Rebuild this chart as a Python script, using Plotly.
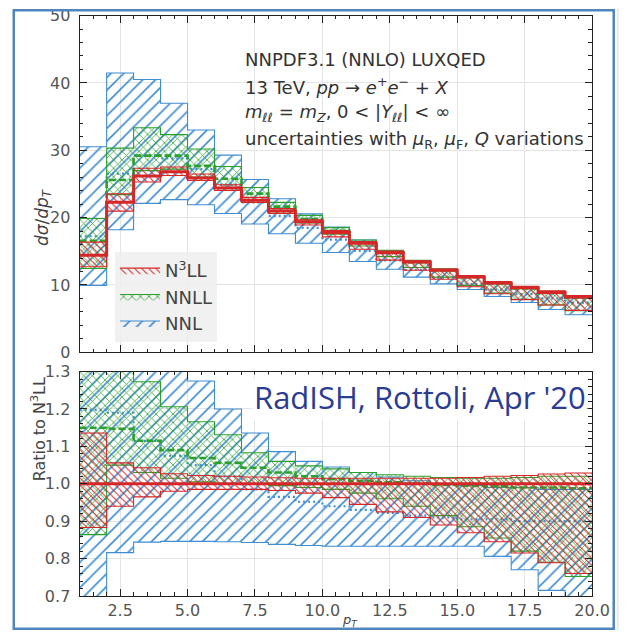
import plotly.graph_objects as go

# p_T bin edges: 19 unit-width bins from 1 to 20
pt_edges = list(range(1, 21))

# N3LL central prediction (absolute, dsigma/dpT)
n3ll_central = [14.4, 22.3, 26.2, 26.8, 25.9, 24.4, 22.6, 21.0, 19.4, 17.8,
                16.2, 14.8, 13.4, 12.2, 11.2, 10.3, 9.6, 8.9, 8.2]

# everything below is expressed as a ratio to the N3LL central value
n3ll_lo = [0.883, 0.940, 0.965, 0.980, 0.985, 0.985, 0.985, 0.982, 0.975, 0.963,
           0.945, 0.925, 0.910, 0.890, 0.869, 0.845, 0.815, 0.789, 0.760]
n3ll_hi = [1.136, 1.056, 1.043, 1.027, 1.022, 1.020, 1.018, 1.016, 1.015, 1.015,
           1.015, 1.015, 1.015, 1.015, 1.017, 1.020, 1.022, 1.026, 1.029]

nnll_mid = [1.150, 1.147, 1.115, 1.090, 1.069, 1.056, 1.043, 1.030, 1.020, 1.013,
            1.008, 1.004, 1.000, 0.997, 0.995, 0.993, 0.990, 0.990, 0.988]
nnll_lo = [0.864, 1.050, 1.030, 1.015, 1.005, 1.000, 0.998, 0.995, 0.990, 0.985,
           0.975, 0.960, 0.940, 0.915, 0.885, 0.855, 0.820, 0.790, 0.752]
nnll_hi = [1.380, 1.360, 1.273, 1.206, 1.166, 1.131, 1.083, 1.060, 1.048, 1.040,
           1.030, 1.024, 1.020, 1.017, 1.015, 1.015, 1.017, 1.020, 1.020]

nnl_mid = [1.197, 1.190, 1.115, 1.075, 1.050, 1.020, 0.985, 0.965, 0.952, 0.940,
           0.930, 0.922, 0.915, 0.910, 0.905, 0.905, 0.900, 0.900, 0.900]
nnl_lo = [0.690, 0.816, 0.844, 0.846, 0.846, 0.845, 0.843, 0.838, 0.835, 0.833,
          0.833, 0.833, 0.833, 0.833, 0.833, 0.806, 0.770, 0.715, 0.680, 0.745]
nnl_hi = [2.120, 1.860, 1.546, 1.380, 1.275, 1.200, 1.136, 1.086, 1.060, 1.045,
          1.030, 1.018, 1.008, 1.000, 0.995, 0.990, 0.990, 0.985, 0.985]

x_ticks = [2.5, 5.0, 7.5, 10.0, 12.5, 15.0, 17.5, 20.0]

RED = "#d62728"
GREEN = "#2ca02c"
BLUE = "#3f8dd2"

series = [
    # name, colour, lo, mid, hi, hatch shape, hatch size, hatch solidity,
    # central dash, central width, legend rank
    ("NNL", BLUE, nnl_lo, nnl_mid, nnl_hi, "/", 9, 0.18, "2px,3px", 2.2, 3),
    ("NNLL", GREEN, nnll_lo, nnll_mid, nnll_hi, "x", 6, 0.24, "7px,3px", 2.6, 2),
    ("N<sup>3</sup>LL", RED, n3ll_lo, [1.0] * len(n3ll_central), n3ll_hi, "\\", 5, 0.2,
     "solid", 3.0, 1),
]

FONT = "DejaVu Sans"
fig = go.Figure()


def steps(vals):
    # step curve with 'hv' shape: one value per bin left edge, repeat the last
    n = len(pt_edges) - 1
    return list(vals[:n]) + [vals[n - 1]]


for panel, (xa, ya) in enumerate([("x", "y"), ("x2", "y2")]):
    for name, col, lo, mid, hi, shape, size, solid, dash, lw, rank in series:
        scale = n3ll_central if panel == 0 else [1.0] * len(n3ll_central)
        ylo = [a * s for a, s in zip(lo, scale)]
        yhi = [a * s for a, s in zip(hi, scale)]
        ymid = [a * s for a, s in zip(mid, scale)]
        fig.add_trace(go.Scatter(
            x=pt_edges, y=steps(ylo), xaxis=xa, yaxis=ya, mode="lines",
            line=dict(color=col, width=1.1, shape="hv"), opacity=0.8,
            showlegend=False, hoverinfo="skip"))
        fig.add_trace(go.Scatter(
            x=pt_edges, y=steps(yhi), xaxis=xa, yaxis=ya, mode="lines",
            line=dict(color=col, width=1.1, shape="hv"), fill="tonexty",
            fillcolor="rgba(0,0,0,0)",
            fillpattern=dict(shape=shape, size=size, solidity=solid,
                             fgcolor=col, bgcolor="rgba(0,0,0,0)", fillmode="replace"),
            name=name, legendrank=rank, showlegend=(panel == 0),
            hoverinfo="skip"))
        fig.add_trace(go.Scatter(
            x=pt_edges, y=steps(ymid), xaxis=xa, yaxis=ya, mode="lines",
            line=dict(color=col, width=lw, shape="hv", dash=dash),
            showlegend=False, hoverinfo="skip"))

W, H = 637, 640

# the page is photographed slightly squeezed (about 98.8 % wide, 97.3 % tall,
# shifted 8 px down); these helpers place items at the intended screen pixels
SX, OX = 0.988, 1.0
SY, OY = 0.973, 8.4


def px_x(p):
    return min(max((p - OX) / SX / W, 0.0), 1.0)


def px_y(p):
    return min(max(1 - (p - OY) / SY / H, 0.0), 1.0)


axis_common = dict(
    showline=True, linecolor="#222", linewidth=1.3, mirror="allticks",
    ticks="inside", ticklen=7, tickwidth=1.2, tickcolor="#222",
    showgrid=True, gridcolor="#e4e4e4", gridwidth=1,
    zeroline=False, tickfont=dict(family=FONT, size=16, color="#555"),
)
minor_x = dict(ticks="inside", ticklen=3.5, dtick=0.5, tick0=0, tickcolor="#222")

fig.update_layout(
    width=W, height=H, margin=dict(l=0, r=0, t=0, b=0),
    paper_bgcolor="white", plot_bgcolor="white",
    xaxis=dict(domain=[px_x(82), px_x(603)], range=[1, 20], anchor="y",
               tickvals=x_ticks, showticklabels=False, minor=minor_x, **axis_common),
    yaxis=dict(domain=[px_y(352.7), px_y(15)], range=[0, 50], anchor="x",
               dtick=10, ticklabelstandoff=5,
               minor=dict(ticks="inside", ticklen=3.5, dtick=2, tickcolor="#222"),
               **axis_common),
    xaxis2=dict(domain=[px_x(82), px_x(603)], range=[1, 20], anchor="y2",
                tickvals=x_ticks, ticktext=[f"{v:.1f}" for v in x_ticks],
                ticklabelstandoff=0, minor=minor_x, **axis_common),
    yaxis2=dict(domain=[px_y(597), px_y(372)], range=[0.7, 1.3], anchor="x2",
                dtick=0.1, tickformat=".1f", ticklabelstandoff=5,
                minor=dict(ticks="inside", ticklen=3.5, dtick=0.02, tickcolor="#222"),
                **axis_common),
    legend=dict(x=px_x(118), y=px_y(252), xanchor="left", yanchor="top",
                bgcolor="rgba(238,238,238,0.85)", borderwidth=0,
                font=dict(family=FONT, size=18, color="#444"),
                traceorder="normal", tracegroupgap=0, itemwidth=40),
    showlegend=True,
)

info_lines = [
    "NNPDF3.1 (NNLO) LUXQED",
    "13 TeV, <i>pp</i> → <i>e</i><sup>+</sup><i>e</i><sup>−</sup> + <i>X</i>",
    "<i>m</i><sub><i>ℓℓ</i></sub> = <i>m</i><sub><i>Z</i></sub>, 0 &lt; |<i>Y</i><sub><i>ℓℓ</i></sub>| &lt; ∞",
    "uncertainties with <i>μ</i><sub>R</sub>, <i>μ</i><sub>F</sub>, <i>Q</i> variations",
]
for i, txt in enumerate(info_lines):
    fig.add_annotation(text=txt, xref="paper", yref="paper",
                       x=px_x(248), y=px_y(59 + 27 * i), xanchor="left", yanchor="middle",
                       showarrow=False, font=dict(family=FONT, size=18, color="#333"))

fig.add_annotation(text="RadISH, Rottoli, Apr '20", xref="paper", yref="paper",
                   x=px_x(599), y=px_y(397), xanchor="right", yanchor="middle",
                   showarrow=False, bgcolor="rgba(255,255,255,0.9)",
                   font=dict(family="Open Sans", size=31, color="#2b3c92"))

fig.add_annotation(text="<i>dσ</i>/<i>dp</i><sub><i>T</i></sub>", xref="paper", yref="paper",
                   x=px_x(31), y=px_y(186), textangle=-90, showarrow=False,
                   font=dict(family=FONT, size=17, color="#444"))
fig.add_annotation(text="Ratio to N<sup>3</sup>LL", xref="paper", yref="paper",
                   x=px_x(27), y=px_y(484), textangle=-90, showarrow=False,
                   font=dict(family=FONT, size=16, color="#444"))
fig.add_annotation(text="<i>p<sub>T</sub></i>", xref="paper", yref="paper",
                   x=px_x(348), y=0.0, xanchor="left", yanchor="bottom",
                   showarrow=False, borderpad=0,
                   font=dict(family=FONT, size=13, color="#444"))

# surrounding frame of the figure
fig.add_shape(type="rect", xref="paper", yref="paper",
              x0=px_x(628), x1=1.0, y0=0, y1=1, fillcolor="#ececec",
              line=dict(width=0), layer="below")
fig.add_shape(type="rect", xref="paper", yref="paper",
              x0=px_x(15), x1=px_x(625), y0=0.002, y1=0.998,
              line=dict(color="#4f86c0", width=2.5), layer="above")

fig.write_html("out.html")
